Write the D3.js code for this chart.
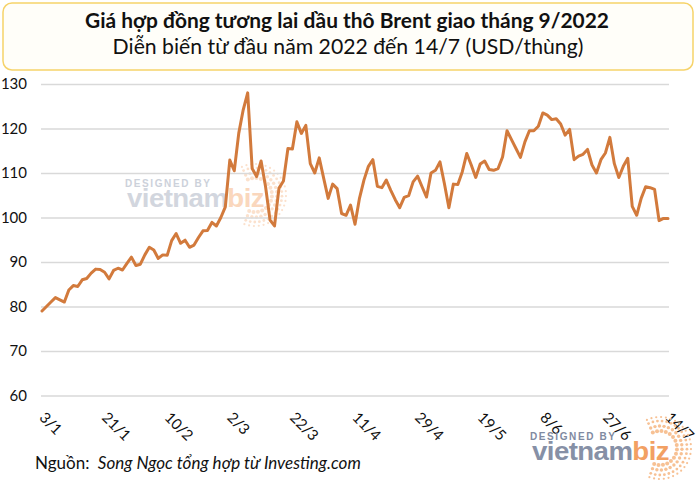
<!DOCTYPE html>
<html><head><meta charset="utf-8">
<script src="https://cdn.jsdelivr.net/npm/d3@7"></script>
<style>
body{margin:0;background:#fff;}
svg{display:block;font-family:Lato,"Noto Sans",sans-serif;}
</style>
</head><body>
<svg id="c" width="697" height="482"></svg>
<script>
// ---------- data ----------
const titleLine1 = "Giá hợp đồng tương lai dầu thô Brent giao tháng 9/2022";
const titleLine2 = "Diễn biến từ đầu năm 2022 đến 14/7 (USD/thùng)";
const sourceLabel = "Nguồn: ";
const sourceText = "Song Ngọc tổng hợp từ Investing.com";
const yTicks = [60, 70, 80, 90, 100, 110, 120, 130];
const tickLabels = ["3/1","21/1","10/2","2/3","22/3","11/4","29/4","19/5","8/6","27/6","14/7"];
const tickEvery = 14;
const prices = [
  79.0, 80.0, 81.0, 82.0, 81.5, 81.0, 83.7, 84.7, 84.5, 86.0,
  86.3, 87.5, 88.4, 88.3, 87.7, 86.2, 88.1, 88.6, 88.2, 89.7,
  91.1, 89.2, 89.5, 91.6, 93.3, 92.7, 90.8, 91.6, 91.5, 94.8,
  96.4, 94.2, 94.9, 93.3, 93.8, 95.5, 97.0, 97.1, 98.9, 98.1,
  100.0, 102.4, 112.9, 110.5, 118.9, 124.2, 128.0, 111.0, 109.2, 112.7,
  106.9, 99.4, 98.1, 106.6, 108.2, 115.5, 115.4, 121.5, 118.9, 120.7,
  112.1, 110.0, 113.4, 108.8, 104.3, 107.5, 106.5, 100.9, 100.5, 102.8,
  98.5, 104.3, 108.4, 111.5, 113.0, 107.0, 106.7, 108.4, 106.1, 104.0,
  102.2, 104.5, 104.9, 108.0, 109.3, 106.9, 104.6, 110.0, 110.6, 112.5,
  107.6, 102.2, 107.5, 107.4, 110.3, 114.4, 111.8, 109.0, 112.0, 112.7,
  110.8, 110.6, 111.0, 113.6, 119.5, 117.5, 115.5, 113.5, 117.0, 119.5,
  119.5, 120.5, 123.5, 123.0, 122.0, 122.2, 121.0, 118.5, 119.8, 113.0,
  113.8, 114.2, 115.3, 111.8, 110.0, 113.0, 114.5, 118.0, 112.1, 109.0,
  111.5, 113.3, 102.5, 100.5, 104.3, 106.9, 106.7, 106.3, 99.3, 99.8,
  99.8
];

// ---------- layout ----------
const svg = d3.select("#c");
const plotL = 41, plotR = 669, plotT = 84, plotB = 395.5;
const x = d3.scaleLinear().domain([0, prices.length - 1]).range([42, 668]);
const y = d3.scaleLinear().domain([60, 130]).range([plotB, plotT]);

// title box
svg.append("rect").attr("x", 3).attr("y", 3).attr("width", 690).attr("height", 67)
  .attr("rx", 9).attr("fill", "#fffef9").attr("stroke", "#f6d36a").attr("stroke-width", 1.5);

function fitText(t, target) {
  const len = t.node().getComputedTextLength();
  const fs = parseFloat(t.attr("font-size"));
  t.attr("font-size", (fs * target / len).toFixed(2));
}
const t1 = svg.append("text").attr("x", 347).attr("y", 28).attr("text-anchor", "middle")
  .attr("font-size", 20).attr("font-weight", 700).attr("fill", "#111").text(titleLine1);
fitText(t1, 524);
const t2 = svg.append("text").attr("x", 348).attr("y", 54).attr("text-anchor", "middle")
  .attr("font-size", 20).attr("fill", "#111").text(titleLine2);
fitText(t2, 471);

// watermark helper (decorative)
function watermark(ox, oy, faint) {
  const g = svg.append("g");
  const cBlue = faint ? "#ccd1da" : "#7f8aa1";
  const cWord = faint ? "#d2d6de" : "#8690a6";
  const cOrange = faint ? "#fad7bd" : "#f2a063";
  const cDots = faint ? "#fbe1cd" : "#f7c194";
  const cx = ox + 128, cy = oy - 12;
  [[17, 2.0, 16], [22, 1.7, 20], [27, 1.4, 24], [31, 1.1, 26]].forEach(([r, s, n]) => {
    for (let k = 0; k < n; k++) {
      const a = (-115 + 225 * k / (n - 1)) * Math.PI / 180;
      g.append("circle").attr("cx", cx + r * Math.cos(a)).attr("cy", cy + r * Math.sin(a))
        .attr("r", s).attr("fill", cDots);
    }
  });
  g.append("text").attr("x", ox - 2).attr("y", oy - 20).attr("font-family", "'Liberation Sans',Arial,sans-serif")
    .attr("font-weight", 700).attr("font-size", 10).attr("letter-spacing", 1.6).attr("fill", cBlue)
    .text("DESIGNED BY");
  const w = g.append("text").attr("x", ox).attr("y", oy).attr("font-family", "'Liberation Sans',Arial,sans-serif")
    .attr("font-weight", 700).attr("font-size", 25).attr("letter-spacing", -0.5)
    .attr("textLength", 137).attr("lengthAdjust", "spacingAndGlyphs");
  w.append("tspan").attr("fill", cWord).text("vietnam");
  w.append("tspan").attr("fill", cOrange).text("biz");
}
watermark(127, 207, true);

// grid + y axis
const yAxis = svg.append("g").attr("transform", `translate(${plotL},0)`)
  .call(d3.axisLeft(y).tickValues(yTicks).tickSize(-(plotR - plotL)).tickPadding(14));
yAxis.select(".domain").remove();
yAxis.selectAll(".tick line").attr("stroke", "#d9d9d9").attr("stroke-width", 1.3);
yAxis.selectAll(".tick text").attr("font-family", "Lato,sans-serif").attr("font-size", 15).attr("fill", "#111");

// x axis
const xTicks = tickLabels.map((_, i) => i * tickEvery);
const xAxis = svg.append("g").attr("transform", `translate(0,${plotB})`)
  .call(d3.axisBottom(x).tickValues(xTicks).tickFormat(i => tickLabels[i / tickEvery]).tickSize(0));
xAxis.select(".domain").remove();
xAxis.selectAll(".tick text")
  .attr("font-family", "Lato,sans-serif").attr("font-size", 15).attr("fill", "#111")
  .attr("text-anchor", "start").attr("x", 0).attr("y", 0).attr("dy", 0)
  .attr("transform", "translate(-4,23) rotate(45)");

// line
svg.append("path").datum(prices)
  .attr("fill", "none").attr("stroke", "#d27a3c").attr("stroke-width", 3)
  .attr("stroke-linejoin", "round").attr("stroke-linecap", "round")
  .attr("d", d3.line().x((d, i) => x(i)).y(d => y(d)));

// bottom-right watermark
watermark(532, 460, false);

// source
const src = svg.append("text").attr("x", 35).attr("y", 469).attr("font-size", 14).attr("fill", "#111");
src.append("tspan").text(sourceLabel);
src.append("tspan").attr("font-style", "italic").attr("dx", 4).text(sourceText);
fitText(src, 322);
</script>
</body></html>
